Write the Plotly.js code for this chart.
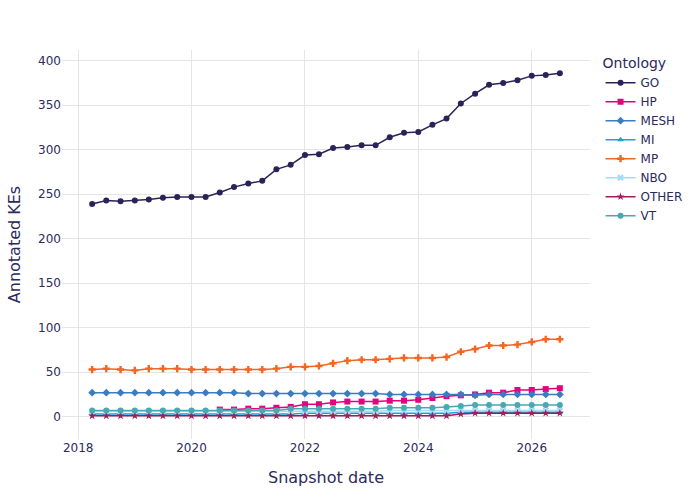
<!DOCTYPE html>
<html>
<head>
<meta charset="utf-8">
<script src="https://cdn.plot.ly/plotly-3.0.1.min.js"></script>
<style>
  html, body { margin: 0; padding: 0; background: #fff; }
  #chart { width: 700px; height: 500px; }
</style>
</head>
<body>
<div id="chart"></div>
<script>
// quarterly snapshots, Apr 2018 .. Jul 2026
const dates = []
for (let y = 2018; y <= 2026; y++) {
  for (const m of ['01', '04', '07', '10']) {
    const d = y + '-' + m + '-01'
    if (d >= '2018-04-01' && d <= '2026-07-01') dates.push(d)
  }
}

const ontologies = ['GO', 'HP', 'MESH', 'MI', 'MP', 'NBO', 'OTHER', 'VT']

const goCounts = [239, 243, 242, 243, 244, 246, 247, 247, 247, 252, 258, 262, 265, 278, 283, 294, 295,
  302, 303, 305, 305, 314, 319, 320, 328, 335, 352, 363, 373, 375, 378, 383, 384, 386]
const hpCounts = [null, null, null, null, null, null, null, null, null, 8, 8, 9, 9, 10, 11, 14, 14,
  16, 17, 17, 17, 18, 18, 19, 21, 23, 24, 25, 27, 27, 30, 30, 31, 32]
const meshCounts = [27, 27, 27, 27, 27, 27, 27, 27, 27, 27, 27, 26, 26, 26, 26, 26, 26,
  26, 26, 26, 26, 25, 25, 25, 25, 25, 25, 24, 25, 25, 25, 25, 25, 25]
const miCounts = [3, 3, 3, 3, 3, 3, 3, 3, 3, 3, 3, 3, 3, 3, 3, 4, 4,
  4, 4, 4, 4, 4, 4, 4, 4, 4, 5, 5, 5, 5, 5, 5, 5, 5]
const mpCounts = [53, 54, 53, 52, 54, 54, 54, 53, 53, 53, 53, 53, 53, 54, 56, 56, 57,
  60, 63, 64, 64, 65, 66, 66, 66, 67, 73, 76, 80, 80, 81, 84, 87, 87]
const nboCounts = [6, 6, 6, 6, 6, 6, 6, 6, 6, 6, 6, 6, 6, 6, 6, 6, 6,
  6, 6, 6, 6, 7, 7, 7, 7, 7, 7, 7, 7, 7, 7, 7, 7, 7]
const otherCounts = [1, 1, 1, 1, 1, 1, 1, 1, 1, 1, 1, 1, 1, 1, 1, 1, 1,
  1, 1, 1, 1, 1, 1, 1, 1, 1, 3, 4, 4, 4, 4, 4, 4, 4]
const vtCounts = [7, 7, 7, 7, 7, 7, 7, 7, 7, 7, 7, 7, 7, 7, 9, 9, 9,
  9, 9, 9, 9, 10, 10, 10, 10, 11, 12, 13, 13, 13, 13, 13, 13, 13]

const seriesValues = [goCounts, hpCounts, meshCounts, miCounts, mpCounts, nboCounts, otherCounts, vtCounts]
const colors = ['#2b2257', '#e5007d', '#3a7cc4', '#1e9de0', '#f26522', '#a6dcf5', '#9e1e5a', '#48a9b2']
const symbols = ['circle', 'square', 'diamond', 'triangle-up', 'cross', 'x', 'star', 'circle']

const textColor = '#2d2a5c'

const data = ontologies.map((name, i) => ({
  x: dates,
  y: seriesValues[i],
  name: name,
  type: 'scatter',
  mode: 'lines+markers',
  line: { color: colors[i], width: 1.5 },
  marker: { color: colors[i], symbol: symbols[i], size: 6 }
}))

const layout = {
  width: 700,
  height: 500,
  font: { family: 'DejaVu Sans', color: textColor, size: 12 },
  paper_bgcolor: '#fff',
  plot_bgcolor: '#fff',
  margin: { l: 62, r: 110, t: 50, b: 61 },
  xaxis: {
    title: { text: 'Snapshot date', font: { size: 16 }, standoff: 17 },
    automargin: true,
    gridcolor: '#e5e5e5',
    zeroline: false,
    showline: false
  },
  yaxis: {
    title: { text: 'Annotated KEs', font: { size: 16 } },
    gridcolor: '#e5e5e5',
    zeroline: false,
    showline: false
  },
  legend: {
    title: { text: 'Ontology', font: { size: 14 } },
    font: { size: 12 }
  }
}

Plotly.newPlot('chart', data, layout, { displayModeBar: false })
</script>
</body>
</html>
